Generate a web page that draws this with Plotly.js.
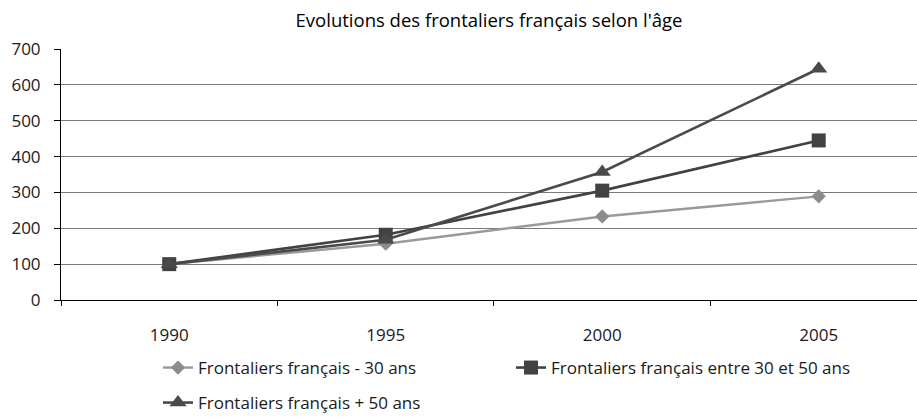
<!DOCTYPE html>
<html>
<head>
<meta charset="utf-8">
<script src="https://cdn.plot.ly/plotly-3.0.1.min.js"></script>
<style>html,body{margin:0;padding:0;background:#fff;}#chart{width:917px;height:417px;}</style>
</head>
<body>
<div id="chart"></div>
<script>
const years = ["1990", "1995", "2000", "2005"];
const moins30 = [100, 157, 233, 289];
const entre30et50 = [100, 182, 305, 445];
const plus50 = [100, 168, 357, 645];
const seriesNames = [
  "Frontaliers français - 30 ans",
  "Frontaliers français entre 30 et 50 ans",
  "Frontaliers français + 50 ans"
];
const yTicks = [0, 100, 200, 300, 400, 500, 600, 700];

const FONT = "Open Sans, Noto Sans, sans-serif";

const traces = [
  {x: years, y: moins30, name: seriesNames[0], type: "scatter", mode: "lines+markers",
   line: {color: "#9a9a9a", width: 2.4},
   marker: {symbol: "diamond", size: 11, color: "#8c8c8c"}, legend: "legend"},
  {x: years, y: entre30et50, name: seriesNames[1], type: "scatter", mode: "lines+markers",
   line: {color: "#424242", width: 2.6},
   marker: {symbol: "square", size: 14, color: "#424242"}, legend: "legend"},
  {x: years, y: plus50, name: seriesNames[2], type: "scatter", mode: "lines+markers",
   line: {color: "#4a4a4a", width: 2.6},
   marker: {symbol: "triangle-up", size: 15, color: "#4a4a4a"}, legend: "legend2"}
];

const legendFont = {family: FONT, size: 17, color: "#1a1a1a"};

const layout = {
  width: 917, height: 417,
  margin: {l: 61, r: 0, t: 49, b: 116.5},
  paper_bgcolor: "#fff", plot_bgcolor: "#fff",
  font: {family: FONT, size: 17, color: "#1a1a1a"},
  title: {text: "Evolutions des frontaliers français selon l'âge",
          font: {family: FONT, size: 18.5, color: "#000"},
          x: 0.5, xref: "paper", xanchor: "center", y: 1 - 21 / 417, yref: "container", yanchor: "middle"},
  xaxis: {type: "category", range: [-0.5, 3.454], showgrid: false, zeroline: false,
          showline: true, linecolor: "#000", linewidth: 1,
          ticks: "outside", tickson: "boundaries", ticklen: 5, tickcolor: "#000",
          ticklabelstandoff: 20,
          tickfont: {family: FONT, size: 17, color: "#1a1a1a"}, fixedrange: true},
  yaxis: {range: [0, 700], tickvals: yTicks, showgrid: true, gridcolor: "#7a7a7a", gridwidth: 1,
          zeroline: false, showline: true, linecolor: "#000", linewidth: 1,
          ticks: "outside", ticklen: 6, tickcolor: "#000", ticklabelstandoff: 10,
          tickfont: {family: FONT, size: 17, color: "#1a1a1a"}, fixedrange: true},
  showlegend: true,
  legend: {orientation: "h", xref: "container", yref: "container",
           x: 158 / 917, xanchor: "left", y: 1 - 350 / 417, yanchor: "top",
           font: legendFont, entrywidth: 308, itemsizing: "trace", bgcolor: "rgba(0,0,0,0)"},
  legend2: {orientation: "h", xref: "container", yref: "container",
           x: 158 / 917, xanchor: "left", y: 1 - 385 / 417, yanchor: "top",
           font: legendFont, itemsizing: "trace", bgcolor: "rgba(0,0,0,0)"}
};

Plotly.newPlot("chart", traces, layout, {staticPlot: true, displayModeBar: false});
</script>
</body>
</html>
